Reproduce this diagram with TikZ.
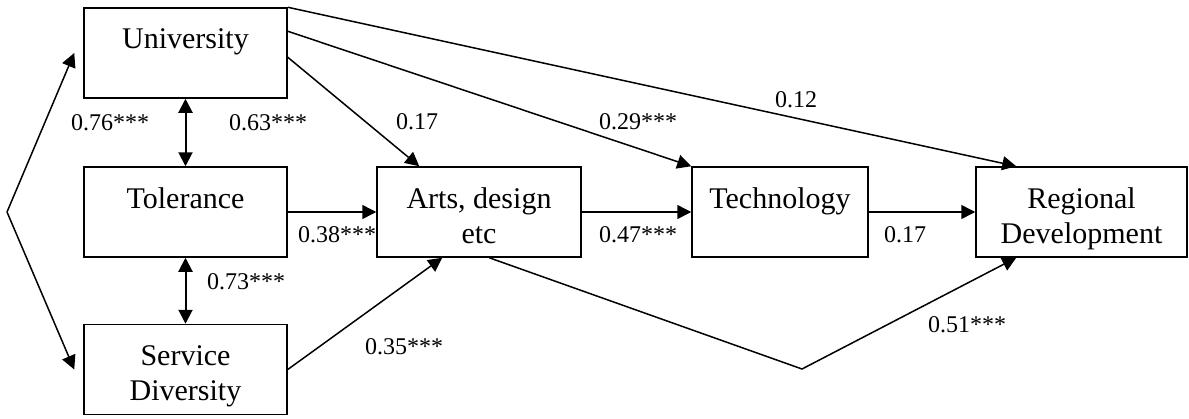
\documentclass[tikz,border=0pt]{standalone}
\usepackage{fontspec}
\setmainfont{Liberation Serif}
\usetikzlibrary{arrows.meta}

\begin{document}
\begin{tikzpicture}[x=0.5pt,y=-0.5pt,
  box/.style={draw,line width=0.75pt,minimum width=101.5pt,minimum height=45pt,inner sep=0pt},
  boxtext/.style={anchor=north,yshift=-10.5pt,inner sep=0pt,align=center,font=\fontsize{15}{17.5}\selectfont},
  conn/.style={line width=0.75pt,-{Triangle[length=7pt,width=7pt]}},
  dbl/.style={line width=1pt,{Triangle[length=7pt,width=7pt]}-{Triangle[length=7pt,width=7pt]}},
  lbl/.style={font=\fontsize{12}{14}\selectfont,inner sep=0pt}]
  \useasboundingbox (0,0) rectangle (1189,418);
  \node[box,label={[boxtext]north:University}] (univ) at (185.5,53) {};
  \node[box,label={[boxtext]north:Tolerance}] (tol) at (185.5,212) {};
  \node[box,label={[boxtext]north:Service\\Diversity}] (serv) at (185.5,369.5) {};
  \node[box,minimum width=102pt,label={[boxtext]north:Arts, design\\etc}] (arts) at (479,212) {};
  \node[box,minimum width=88pt,label={[boxtext]north:Technology}] (tech) at (780,212) {};
  \node[box,minimum width=105.5pt,label={[boxtext]north:Regional\\Development}] (reg) at (1081.5,212) {};
  \coordinate (apex) at (7,212);
  \coordinate (dip) at (802,369);
  \draw[conn](apex)--([xshift=-4.5pt]univ.west);
  \draw[conn](apex)--([xshift=-4.5pt]serv.west);
  \draw[dbl](univ)--(tol);
  \draw[dbl](tol)--(serv);
  \draw[conn](univ.north east)--([xshift=20.5pt]reg.north west);
  \draw[conn]([yshift=-12pt]univ.north east)--(tech.north west);
  \draw[conn]([yshift=-25pt]univ.north east)--([xshift=21.5pt]arts.north west);
  \draw[conn](tol)--(arts);
  \draw[conn](serv.east)--([xshift=33pt]arts.south west);
  \draw[conn](arts)--(tech);
  \draw[conn](tech)--(reg);
  \draw[conn]([xshift=56.5pt]arts.south west)--(dip)--([xshift=20.5pt]reg.south west);
  \node[lbl] (l76) at (110,123) {0.76***};
  \node[lbl] (l63) at (268,123) {0.63***};
  \node[lbl] (l73) at (246,282) {0.73***};
  \node[lbl] (l17a) at (417,122) {0.17};
  \node[lbl] (l29) at (638,122) {0.29***};
  \node[lbl] (l12) at (796,100) {0.12};
  \node[lbl] (l38) at (337,235) {0.38***};
  \node[lbl] (l47) at (638,235) {0.47***};
  \node[lbl] (l17b) at (905,235) {0.17};
  \node[lbl] (l35) at (404,347) {0.35***};
  \node[lbl] (l51) at (967,325) {0.51***};
\end{tikzpicture}
\end{document}
